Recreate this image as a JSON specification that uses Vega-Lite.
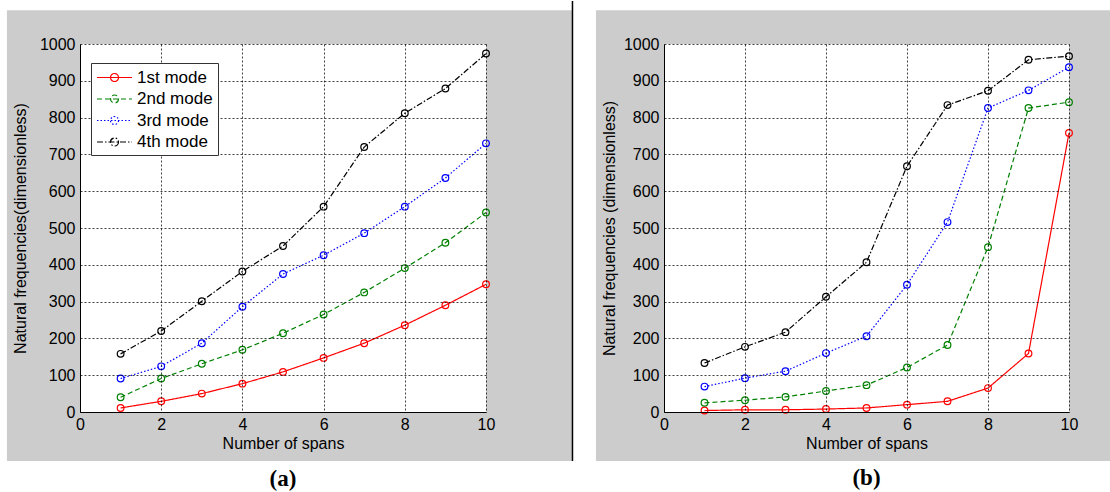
{
  "$schema": "https://vega.github.io/schema/vega-lite/v6.json",
  "background": "white",
  "padding": {"left": 6, "top": 0, "right": 0, "bottom": 0},
  "autosize": {"type": "pad"},
  "spacing": 21,
  "config": {
    "view": {"stroke": null},
    "axis": {
      "labelFont": "Liberation Sans", "labelFontSize": 16, "labelColor": "#000", "labelOverlap": false, "tickCount": 20,
      "titleFont": "Liberation Sans", "titleFontSize": 16, "titleFontWeight": "normal", "titleColor": "#000"
    }
  },
  "datasets": {
    "a": [
      {"spans":1,"freq":11,"mode":"1st mode"},{"spans":2,"freq":29,"mode":"1st mode"},{"spans":3,"freq":50,"mode":"1st mode"},{"spans":4,"freq":77,"mode":"1st mode"},{"spans":5,"freq":109,"mode":"1st mode"},{"spans":6,"freq":147,"mode":"1st mode"},{"spans":7,"freq":187,"mode":"1st mode"},{"spans":8,"freq":236,"mode":"1st mode"},{"spans":9,"freq":290,"mode":"1st mode"},{"spans":10,"freq":347,"mode":"1st mode"},
      {"spans":1,"freq":40,"mode":"2nd mode"},{"spans":2,"freq":91,"mode":"2nd mode"},{"spans":3,"freq":131,"mode":"2nd mode"},{"spans":4,"freq":169,"mode":"2nd mode"},{"spans":5,"freq":214,"mode":"2nd mode"},{"spans":6,"freq":265,"mode":"2nd mode"},{"spans":7,"freq":325,"mode":"2nd mode"},{"spans":8,"freq":391,"mode":"2nd mode"},{"spans":9,"freq":460,"mode":"2nd mode"},{"spans":10,"freq":542,"mode":"2nd mode"},
      {"spans":1,"freq":91,"mode":"3rd mode"},{"spans":2,"freq":124,"mode":"3rd mode"},{"spans":3,"freq":187,"mode":"3rd mode"},{"spans":4,"freq":286,"mode":"3rd mode"},{"spans":5,"freq":375,"mode":"3rd mode"},{"spans":6,"freq":426,"mode":"3rd mode"},{"spans":7,"freq":486,"mode":"3rd mode"},{"spans":8,"freq":558,"mode":"3rd mode"},{"spans":9,"freq":636,"mode":"3rd mode"},{"spans":10,"freq":730,"mode":"3rd mode"},
      {"spans":1,"freq":158,"mode":"4th mode"},{"spans":2,"freq":220,"mode":"4th mode"},{"spans":3,"freq":301,"mode":"4th mode"},{"spans":4,"freq":382,"mode":"4th mode"},{"spans":5,"freq":451,"mode":"4th mode"},{"spans":6,"freq":558,"mode":"4th mode"},{"spans":7,"freq":720,"mode":"4th mode"},{"spans":8,"freq":812,"mode":"4th mode"},{"spans":9,"freq":879,"mode":"4th mode"},{"spans":10,"freq":974,"mode":"4th mode"}
    ],
    "b": [
      {"spans":1,"freq":4,"mode":"1st mode"},{"spans":2,"freq":6,"mode":"1st mode"},{"spans":3,"freq":6,"mode":"1st mode"},{"spans":4,"freq":8,"mode":"1st mode"},{"spans":5,"freq":11,"mode":"1st mode"},{"spans":6,"freq":20,"mode":"1st mode"},{"spans":7,"freq":29,"mode":"1st mode"},{"spans":8,"freq":65,"mode":"1st mode"},{"spans":9,"freq":159,"mode":"1st mode"},{"spans":10,"freq":758,"mode":"1st mode"},
      {"spans":1,"freq":25,"mode":"2nd mode"},{"spans":2,"freq":32,"mode":"2nd mode"},{"spans":3,"freq":41,"mode":"2nd mode"},{"spans":4,"freq":57,"mode":"2nd mode"},{"spans":5,"freq":73,"mode":"2nd mode"},{"spans":6,"freq":121,"mode":"2nd mode"},{"spans":7,"freq":182,"mode":"2nd mode"},{"spans":8,"freq":448,"mode":"2nd mode"},{"spans":9,"freq":826,"mode":"2nd mode"},{"spans":10,"freq":842,"mode":"2nd mode"},
      {"spans":1,"freq":69,"mode":"3rd mode"},{"spans":2,"freq":92,"mode":"3rd mode"},{"spans":3,"freq":111,"mode":"3rd mode"},{"spans":4,"freq":160,"mode":"3rd mode"},{"spans":5,"freq":206,"mode":"3rd mode"},{"spans":6,"freq":346,"mode":"3rd mode"},{"spans":7,"freq":516,"mode":"3rd mode"},{"spans":8,"freq":826,"mode":"3rd mode"},{"spans":9,"freq":874,"mode":"3rd mode"},{"spans":10,"freq":937,"mode":"3rd mode"},
      {"spans":1,"freq":133,"mode":"4th mode"},{"spans":2,"freq":177,"mode":"4th mode"},{"spans":3,"freq":217,"mode":"4th mode"},{"spans":4,"freq":313,"mode":"4th mode"},{"spans":5,"freq":407,"mode":"4th mode"},{"spans":6,"freq":668,"mode":"4th mode"},{"spans":7,"freq":834,"mode":"4th mode"},{"spans":8,"freq":873,"mode":"4th mode"},{"spans":9,"freq":957,"mode":"4th mode"},{"spans":10,"freq":967,"mode":"4th mode"}
    ]
  },
  "hconcat": [
    {
      "width": 406, "height": 368,
      "title": {"text": "(a)", "orient": "bottom", "anchor": "middle", "frame": "group", "font": "Liberation Serif", "fontSize": 23, "fontWeight": "bold", "color": "#000", "offset": 6},
      "layer": [
        {
          "data": {"values": [{}]},
          "mark": {"type": "rect", "color": "#cccccc"},
          "encoding": {
            "x": {"datum": -1.8, "type": "quantitative", "scale": {"domain": [0, 10], "nice": false}, "title": "Number of spans"},
            "x2": {"datum": 12.13},
            "y": {"datum": -133, "type": "quantitative", "scale": {"domain": [0, 1000], "nice": false}, "title": "Natural frequencies(dimensionless)"},
            "y2": {"datum": 1092}
          }
        },
        {
          "data": {"values": [{}]},
          "mark": {"type": "rect", "color": "white"},
          "encoding": {
            "x": {"datum": 0, "type": "quantitative", "scale": {"domain": [0, 10], "nice": false}, "title": "Number of spans"},
            "x2": {"datum": 10},
            "y": {"datum": 0, "type": "quantitative", "scale": {"domain": [0, 1000], "nice": false}, "title": "Natural frequencies(dimensionless)"},
            "y2": {"datum": 1000}
          }
        },
        {
          "data": {"values": [{}]},
          "mark": {"type": "rule", "color": "#000", "strokeWidth": 1.5},
          "encoding": {
            "x": {"datum": 12.13, "type": "quantitative", "scale": {"domain": [0, 10], "nice": false}, "title": "Number of spans"},
            "y": {"datum": -133, "type": "quantitative", "scale": {"domain": [0, 1000], "nice": false}, "title": "Natural frequencies(dimensionless)"},
            "y2": {"datum": 1117}
          }
        },
        {
          "data": {"name": "a"},
          "mark": {"type": "line", "strokeWidth": 1.2},
          "encoding": {
            "x": {"field": "spans", "type": "quantitative", "scale": {"domain": [0, 10], "nice": false}, "title": "Number of spans",
              "axis": {"values": [0, 2, 4, 6, 8, 10], "tickCount": 20, "format": "d", "grid": true, "gridColor": "#000", "gridDash": [2, 2], "gridOpacity": 0.75, "domainColor": "#000", "ticks": false, "labelPadding": 4, "labelFlush": false, "labelOverlap": false, "titlePadding": 3, "zindex": 1}},
            "y": {"field": "freq", "type": "quantitative", "scale": {"domain": [0, 1000], "nice": false}, "title": "Natural frequencies(dimensionless)",
              "axis": {"values": [0, 100, 200, 300, 400, 500, 600, 700, 800, 900, 1000], "tickCount": 20, "format": "d", "grid": true, "gridColor": "#000", "gridDash": [2, 2], "gridOpacity": 0.75, "domainColor": "#000", "ticks": false, "labelPadding": 5, "labelFlush": false, "labelOverlap": false, "titlePadding": 11, "zindex": 1}},
            "color": {"field": "mode", "type": "nominal",
              "scale": {"domain": ["1st mode", "2nd mode", "3rd mode", "4th mode"], "range": ["#ff0000", "#008000", "#0000ff", "#000000"]},
              "legend": {"orient": "none", "legendX": 11, "legendY": 19, "title": null, "zindex": 2,
                "symbolType": "M-1,0L3.12,0M1.53,0A0.47,0.47,0,1,1,0.59,0A0.47,0.47,0,1,1,1.53,0",
                "symbolSize": 289, "symbolStrokeWidth": 1.2, "symbolFillColor": "transparent",
                "labelFont": "Liberation Sans", "labelFontSize": 17, "labelColor": "#000", "labelOffset": 22,
                "fillColor": "white", "strokeColor": "#333", "padding": 5, "rowPadding": 3.5}},
            "strokeDash": {"field": "mode", "type": "nominal",
              "scale": {"domain": ["1st mode", "2nd mode", "3rd mode", "4th mode"], "range": [[1, 0], [5, 3], [1.5, 2], [6, 2, 1.5, 2]]}}
          }
        },
        {
          "data": {"name": "a"},
          "mark": {"type": "point", "shape": "circle", "filled": false, "size": 45, "strokeWidth": 1.2, "opacity": 1},
          "encoding": {
            "x": {"field": "spans", "type": "quantitative", "scale": {"domain": [0, 10], "nice": false}, "title": "Number of spans"},
            "y": {"field": "freq", "type": "quantitative", "scale": {"domain": [0, 1000], "nice": false}, "title": "Natural frequencies(dimensionless)"},
            "color": {"field": "mode", "type": "nominal", "legend": null,
              "scale": {"domain": ["1st mode", "2nd mode", "3rd mode", "4th mode"], "range": ["#ff0000", "#008000", "#0000ff", "#000000"]}}
          }
        }
      ]
    },
    {
      "width": 405, "height": 368,
      "title": {"text": "(b)", "orient": "bottom", "anchor": "middle", "frame": "group", "font": "Liberation Serif", "fontSize": 23, "fontWeight": "bold", "color": "#000", "offset": 6},
      "layer": [
        {
          "data": {"values": [{}]},
          "mark": {"type": "rect", "color": "#cccccc"},
          "encoding": {
            "x": {"datum": -1.68, "type": "quantitative", "scale": {"domain": [0, 10], "nice": false}, "title": "Number of spans"},
            "x2": {"datum": 11.05},
            "y": {"datum": -133, "type": "quantitative", "scale": {"domain": [0, 1000], "nice": false}, "title": "Natural frequencies (dimensionless)"},
            "y2": {"datum": 1092}
          }
        },
        {
          "data": {"values": [{}]},
          "mark": {"type": "rect", "color": "white"},
          "encoding": {
            "x": {"datum": 0, "type": "quantitative", "scale": {"domain": [0, 10], "nice": false}, "title": "Number of spans"},
            "x2": {"datum": 10},
            "y": {"datum": 0, "type": "quantitative", "scale": {"domain": [0, 1000], "nice": false}, "title": "Natural frequencies (dimensionless)"},
            "y2": {"datum": 1000}
          }
        },
        {
          "data": {"name": "b"},
          "mark": {"type": "line", "strokeWidth": 1.2},
          "encoding": {
            "x": {"field": "spans", "type": "quantitative", "scale": {"domain": [0, 10], "nice": false}, "title": "Number of spans",
              "axis": {"values": [0, 2, 4, 6, 8, 10], "tickCount": 20, "format": "d", "grid": true, "gridColor": "#000", "gridDash": [2, 2], "gridOpacity": 0.75, "domainColor": "#000", "ticks": false, "labelPadding": 4, "labelFlush": false, "labelOverlap": false, "titlePadding": 3, "zindex": 1}},
            "y": {"field": "freq", "type": "quantitative", "scale": {"domain": [0, 1000], "nice": false}, "title": "Natural frequencies (dimensionless)",
              "axis": {"values": [0, 100, 200, 300, 400, 500, 600, 700, 800, 900, 1000], "tickCount": 20, "format": "d", "grid": true, "gridColor": "#000", "gridDash": [2, 2], "gridOpacity": 0.75, "domainColor": "#000", "ticks": false, "labelPadding": 5, "labelFlush": false, "labelOverlap": false, "titlePadding": 6, "zindex": 1}},
            "color": {"field": "mode", "type": "nominal",
              "scale": {"domain": ["1st mode", "2nd mode", "3rd mode", "4th mode"], "range": ["#ff0000", "#008000", "#0000ff", "#000000"]},
              "legend": {"orient": "none", "legendX": 0, "legendY": 12.5, "title": null, "zindex": 2,
                "symbolType": "M-1,0L3.125,0M1.56,0A0.5,0.5,0,1,1,0.56,0A0.5,0.5,0,1,1,1.56,0",
                "symbolSize": 256, "symbolStrokeWidth": 1.2, "symbolFillColor": "transparent",
                "labelFont": "Liberation Sans", "labelFontSize": 16, "labelColor": "#000", "labelOffset": 21,
                "fillColor": "white", "strokeColor": "#333", "padding": 5, "rowPadding": 5}},
            "strokeDash": {"field": "mode", "type": "nominal",
              "scale": {"domain": ["1st mode", "2nd mode", "3rd mode", "4th mode"], "range": [[1, 0], [5, 3], [1.5, 2], [6, 2, 1.5, 2]]}}
          }
        },
        {
          "data": {"name": "b"},
          "mark": {"type": "point", "shape": "circle", "filled": false, "size": 45, "strokeWidth": 1.2, "opacity": 1},
          "encoding": {
            "x": {"field": "spans", "type": "quantitative", "scale": {"domain": [0, 10], "nice": false}, "title": "Number of spans"},
            "y": {"field": "freq", "type": "quantitative", "scale": {"domain": [0, 1000], "nice": false}, "title": "Natural frequencies (dimensionless)"},
            "color": {"field": "mode", "type": "nominal", "legend": null,
              "scale": {"domain": ["1st mode", "2nd mode", "3rd mode", "4th mode"], "range": ["#ff0000", "#008000", "#0000ff", "#000000"]}}
          }
        }
      ]
    }
  ]
}
